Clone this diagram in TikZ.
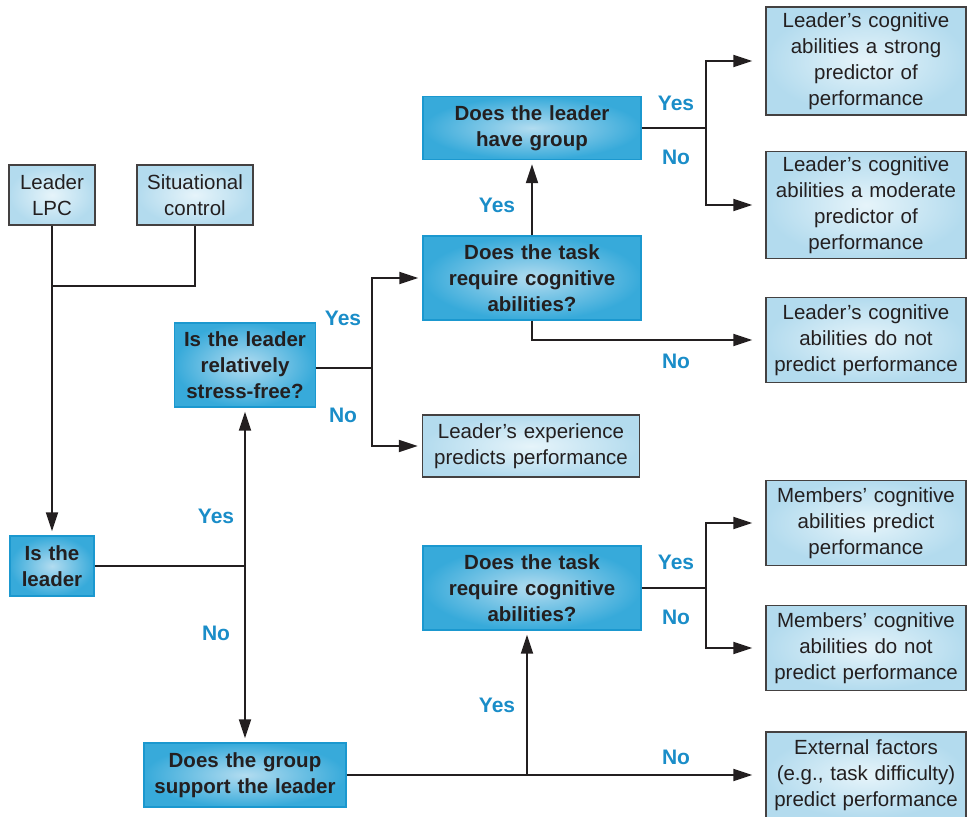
\documentclass[tikz,border=0pt]{standalone}
\usepackage{fontspec}
\setmainfont{Liberation Sans}
\usetikzlibrary{arrows.meta}
\definecolor{ink}{HTML}{231F20}
\definecolor{lightout}{HTML}{B3DBEE}
\definecolor{lightin}{HTML}{E6F4FA}
\definecolor{darkout}{HTML}{37AADA}
\definecolor{darkin}{HTML}{B2DCF0}
\definecolor{darkedge}{HTML}{1B98CF}
\definecolor{labelblue}{HTML}{1A8DC8}
\tikzset{
  infobox/.style={draw=ink!85, line width=1.3pt, shading=radial, inner color=lightin, outer color=lightout,
    inner sep=0pt, align=center, text=ink, font=\fontsize{20.5}{26}\selectfont},
  askbox/.style={draw=darkedge, line width=1.3pt, shading=radial, inner color=darkin, outer color=darkout,
    inner sep=0pt, align=center, text=ink, font=\fontsize{20.5}{26}\selectfont\bfseries},
  conn/.style={draw=ink, line width=1.9pt},
  arrow/.style={conn, -{Triangle[length=19pt,width=12pt]}, shorten >=4pt},
  farrow/.style={arrow, shorten >=13pt},
  answer/.style={text=labelblue, font=\fontsize{21}{24}\selectfont\bfseries}
}
\begin{document}
\begin{tikzpicture}[x=1pt,y=-1pt]
\useasboundingbox (0,0) rectangle (970,817);

% inputs
\node[infobox, text width=86pt, minimum height=60pt] (lpc) at (52,195) {Leader\\LPC};
\node[infobox, text width=116pt, minimum height=60pt] (sit) at (195,195) {Situational\\control};

% question boxes
\node[askbox, text width=84pt, minimum height=60pt] (isl) at (52,566) {Is the\\leader};
\node[askbox, text width=141pt, minimum height=84pt] (stress) at (245,365) {Is the leader\\relatively\\stress-free?};
\node[askbox, text width=202pt, minimum height=64pt] (group) at (245,775) {Does the group\\support the leader};
\node[askbox, text width=218pt, minimum height=84pt] (task1) at (532,278) {Does the task\\require cognitive\\abilities?};
\node[askbox, text width=218pt, minimum height=63pt] (have) at (532,128) {Does the leader\\have group};
\node[askbox, text width=218pt, minimum height=84pt] (task2) at (532,588) {Does the task\\require cognitive\\abilities?};

% outcome boxes
\node[infobox, text width=217pt, minimum height=62pt] (exp) at (531,446) {Leader’s experience\\predicts performance};
\node[infobox, text width=200pt, minimum height=108pt] (strong) at (866,61) {Leader’s cognitive\\abilities a strong\\predictor of\\performance};
\node[infobox, text width=200pt, minimum height=107pt] (moderate) at (866,205) {Leader’s cognitive\\abilities a moderate\\predictor of\\performance};
\node[infobox, text width=200pt, minimum height=85pt] (nopred) at (866,340) {Leader’s cognitive\\abilities do not\\predict performance};
\node[infobox, text width=200pt, minimum height=85pt] (mem1) at (866,523) {Members’ cognitive\\abilities predict\\performance};
\node[infobox, text width=200pt, minimum height=85pt] (mem2) at (866,648) {Members’ cognitive\\abilities do not\\predict performance};
\node[infobox, text width=200pt, minimum height=86pt] (ext) at (866,775) {External factors\\(e.g., task difficulty)\\predict performance};

% junction points
\coordinate (j0) at (52,286);
\coordinate (j1) at (245,566);
\coordinate (j2) at (372,368);
\coordinate (j3) at (706,128);
\coordinate (j4) at (527,775);
\coordinate (j5) at (706,588);

% connectors
\draw[conn] (sit.south) |- (j0);
\draw[arrow] (lpc.south) -- (isl.north);
\draw[conn] (isl.east) -- (j1);
\draw[arrow] (j1) -- (stress.south);
\draw[arrow] (j1) -- (group.north);
\draw[conn] (stress.east |- j2) -- (j2);
\draw[arrow] (j2) |- (task1.west);
\draw[arrow] (j2) |- (exp.west);
\draw[arrow] (task1.north) -- (have.south);
\draw[farrow] (task1.south) |- (nopred.west);
\draw[conn] (have.east) -- (j3);
\draw[farrow] (j3) |- (strong.west);
\draw[farrow] (j3) |- (moderate.west);
\draw[farrow] (group.east) -- (ext.west);
\draw[arrow] (j4) -- (j4 |- task2.south);
\draw[conn] (task2.east) -- (j5);
\draw[farrow] (j5) |- (mem1.west);
\draw[farrow] (j5) |- (mem2.west);

% answer labels
\node[answer] (a1) at (216,516) {Yes};
\node[answer] (a2) at (216,633) {No};
\node[answer] (a3) at (343,318) {Yes};
\node[answer] (a4) at (343,415) {No};
\node[answer] (a5) at (497,205) {Yes};
\node[answer] (a6) at (676,361) {No};
\node[answer] (a7) at (676,103) {Yes};
\node[answer] (a8) at (676,157) {No};
\node[answer] (a9) at (497,705) {Yes};
\node[answer] (a10) at (676,757) {No};
\node[answer] (a11) at (676,562) {Yes};
\node[answer] (a12) at (676,617) {No};
\end{tikzpicture}
\end{document}
